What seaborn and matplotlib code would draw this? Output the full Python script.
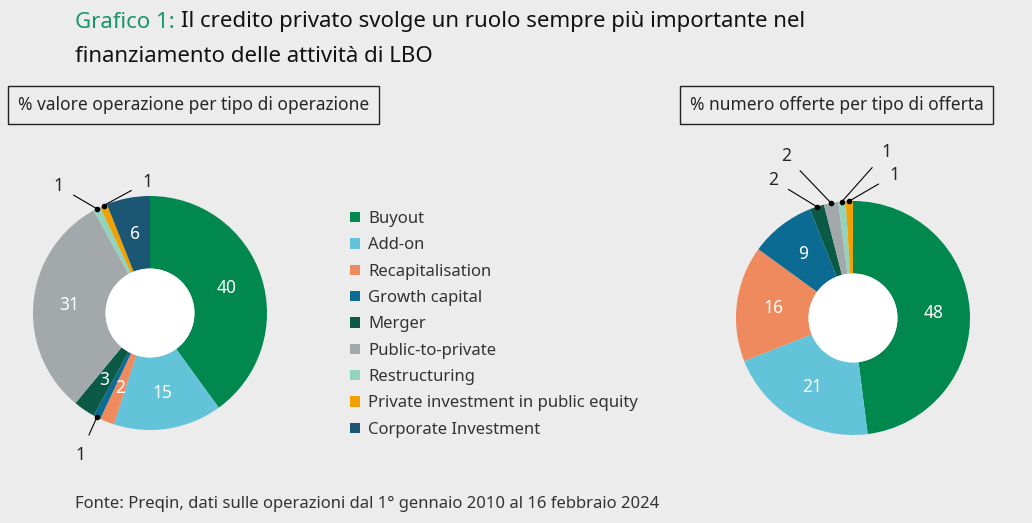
import numpy as np
import matplotlib.pyplot as plt
import seaborn as sns
from matplotlib.patches import Patch, Circle

sns.set_style('white')
plt.rcParams['font.family'] = ['Noto Sans', 'DejaVu Sans']

categories = ['Buyout', 'Add-on', 'Recapitalisation', 'Growth capital', 'Merger',
              'Public-to-private', 'Restructuring', 'Private investment in public equity',
              'Corporate Investment']
colors = ['#00884f', '#62c3d9', '#ef8a5f', '#0b6b93', '#0b5a45',
          '#a3a8ab', '#92d3bc', '#f0a000', '#1b5674']
valore = [40, 15, 2, 1, 3, 31, 1, 1, 6]
offerte = [48, 21, 16, 9, 2, 2, 1, 1, 0]

bg = '#ececec'
fig = plt.figure(figsize=(10.32, 5.23), dpi=100, facecolor=bg)
W, H = 1032, 523


def donut(cx, cy, vals, inside_min, outside):
    r = 117
    ax = fig.add_axes([(cx - r) / W, 1 - (cy + r) / H, 2 * r / W, 2 * r / H])
    ax.set_facecolor(bg)
    idx = [i for i, v in enumerate(vals) if v > 0]
    ax.pie([vals[i] for i in idx], colors=[colors[i] for i in idx], startangle=90,
           counterclock=False, wedgeprops=dict(width=0.62, linewidth=0))
    ax.add_patch(Circle((0, 0), 0.38, facecolor='white', edgecolor='none'))
    ax.set_xlim(-1, 1)
    ax.set_ylim(-1, 1)
    ax.set_aspect('equal')
    ax.axis('off')
    total = sum(vals)
    cum = 0
    for i, v in enumerate(vals):
        if v == 0:
            continue
        ang = np.deg2rad(90 - 360 * (cum + v / 2) / total)
        cum += v
        if v >= inside_min:
            ax.text(0.69 * np.cos(ang), 0.69 * np.sin(ang), str(v), color='white',
                    ha='center', va='center', fontsize=12.5, fontweight='semibold')
        elif i in outside:
            tx, ty = outside[i]
            ex, ey = np.cos(ang), np.sin(ang)
            ax.plot([ex], [ey], 'o', color='black', ms=3, clip_on=False)
            ax.annotate(str(v), xy=(ex, ey), xytext=(tx, H - ty), textcoords='figure pixels',
                        ha='center', va='center', fontsize=12.5,
                        arrowprops=dict(arrowstyle='-', color='black', lw=0.8,
                                        shrinkA=6, shrinkB=0))
    return ax


donut(150, 313, valore, 2, {3: (80, 455), 6: (58, 186), 7: (147, 182)})
donut(853, 318, offerte, 5, {4: (773, 180), 5: (786, 156), 6: (886, 152), 7: (894, 175)})

t1 = fig.text(75 / W, 1 - 22 / H, 'Grafico 1:', color='#17966a', fontsize=16, va='center')
fig.canvas.draw()
bb = t1.get_window_extent()
fig.text((bb.x1 + 6) / W, 1 - 22 / H,
         'Il credito privato svolge un ruolo sempre più importante nel',
         color='#111111', fontsize=16, va='center')
fig.text(75 / W, 1 - 57 / H, 'finanziamento delle attività di LBO', color='#111111',
         fontsize=16, va='center')

box = dict(facecolor='none', edgecolor='#222222', boxstyle='square,pad=0.55', lw=1)
fig.text(18 / W, 1 - 105 / H, '% valore operazione per tipo di operazione', fontsize=12.5,
         va='center', bbox=box)
fig.text(690 / W, 1 - 105 / H, '% numero offerte per tipo di offerta', fontsize=12.5,
         va='center', bbox=box)

handles = [Patch(facecolor=c, edgecolor='none') for c in colors]
fig.legend(handles, categories, loc='upper left', bbox_to_anchor=(335 / W, 1 - 196 / H),
           frameon=False, fontsize=12, handlelength=0.6, handleheight=0.6,
           handletextpad=0.5, labelspacing=0.62, labelcolor='#333333')

fig.text(75 / W, 1 - 504 / H,
         'Fonte: Preqin, dati sulle operazioni dal 1° gennaio 2010 al 16 febbraio 2024',
         fontsize=12, color='#333333', va='center')

fig.savefig('out.png', dpi=100, facecolor=bg)
